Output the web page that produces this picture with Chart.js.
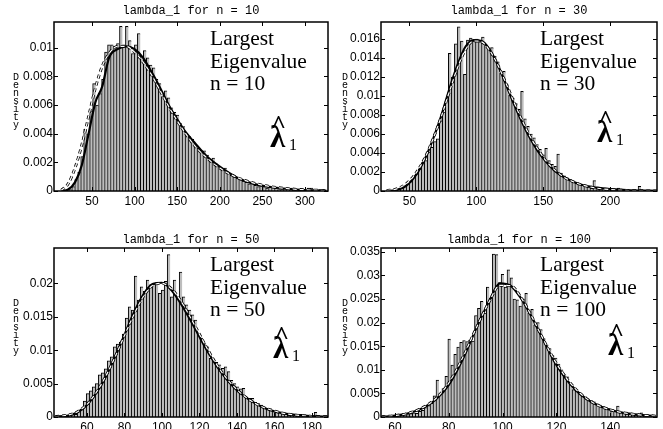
<!DOCTYPE html>
<html>
<head>
<meta charset="utf-8">
<script src="https://cdn.jsdelivr.net/npm/chart.js@4"></script>
<style>
  body { margin: 0; background: #fff; }
  #wrap { position: relative; width: 663px; height: 429px; background: #fff; overflow: hidden; }
  canvas { position: absolute; }
</style>
</head>
<body>
<div id="wrap">
  <canvas id="c10" width="332" height="214" style="left:0;top:0"></canvas>
  <canvas id="c30" width="331" height="214" style="left:332px;top:0"></canvas>
  <canvas id="c50" width="332" height="215" style="left:0;top:214px"></canvas>
  <canvas id="c100" width="331" height="215" style="left:332px;top:214px"></canvas>
</div>
<script>
// titles and labels
const panelTitles = ['lambda_1 for n = 10', 'lambda_1 for n = 30', 'lambda_1 for n = 50', 'lambda_1 for n = 100'];
const nLabels = ['n = 10', 'n = 30', 'n = 50', 'n = 100'];

// histogram heights, density x 1e-3, one bar per bin
const histN10 = [0, 0, 0, 0.1, 0.3, 0.8, 1.3, 2.4, 4.3, 4.0, 5.6, 7.5, 6.0, 6.8, 7.8, 9.7, 10.2, 10.2, 10.1, 10.3,
  11.5, 10.2, 11.5, 10.5, 9.6, 10.2, 11.0, 9.4, 9.8, 9.3, 8.8, 8.6, 7.8, 7.5, 6.6, 7.0, 6.5, 5.8, 5.5, 5.3,
  4.7, 4.5, 4.0, 3.8, 3.6, 3.2, 3.0, 2.8, 2.8, 2.5, 2.2, 2.3, 1.9, 1.7, 1.5, 1.6, 1.3, 1.1, 1.0, 0.9,
  0.8, 0.7, 0.6, 0.5, 0.6, 0.4, 0.3, 0.4, 0.3, 0.2, 0.3, 0.3, 0.2, 0.1, 0.1, 0.2, 0.1, 0.2, 0.1, 0,
  0.1, 0.1, 0, 0.2, 0.2, 0.1, 0, 0.1];
const histN30 = [0, 0, 0.1, 0.2, 0.2, 0.4, 0.5, 0.8, 1.0, 1.6, 1.8, 2.3, 3.0, 3.2, 4.1, 4.6, 5.2, 5.5, 7.4, 8.3,
  9.6, 14.5, 12.0, 15.5, 17.3, 15.8, 12.3, 15.9, 16.1, 15.8, 16.0, 15.7, 16.2, 15.4, 14.9, 15.1, 14.2, 13.6, 12.4, 12.6,
  11.2, 10.1, 9.8, 9.2, 8.6, 10.5, 7.6, 6.8, 6.0, 5.6, 4.9, 4.4, 3.8, 4.5, 3.2, 2.8, 2.6, 3.9, 1.9, 1.6,
  1.4, 1.2, 1.0, 0.8, 0.7, 0.6, 0.5, 0.4, 0.3, 1.1, 0.3, 0.2, 0.3, 0.3, 0.1, 0.1, 0.1, 0.3, 0, 0.1,
  0, 0, 0, 0.1, 0.5];
const histN50 = [0.2, 0.3, 0.2, 0.3, 0.4, 0.4, 0.9, 1.2, 2.4, 3.5, 3.9, 4.5, 5.0, 6.3, 6.6, 7.2, 8.4, 9.0, 10.5, 10.9,
  11.2, 12.4, 14.8, 16.5, 16.0, 21.1, 17.5, 19.5, 18.8, 20.5, 19.8, 19.9, 20.1, 18.5, 19.0, 20.3, 24.3, 18.0, 20.5, 17.8,
  21.7, 18.0, 16.8, 16.0, 15.3, 14.5, 12.5, 11.8, 11.0, 10.5, 8.8, 8.5, 8.2, 7.8, 7.3, 7.5, 6.8, 5.5, 5.0, 4.5,
  4.2, 4.3, 3.0, 2.8, 2.8, 2.2, 2.0, 1.8, 1.4, 1.2, 1.0, 0.9, 0.8, 0.7, 0.6, 0.4, 0.3, 0.3, 0.2, 0.3,
  0.4, 0.2, 0.1, 0, 0, 0.7, 0];
const histN100 = [0, 0, 0.1, 0.3, 0.4, 0.2, 0.4, 0.6, 0.5, 0.7, 0.9, 0.8, 1.2, 1.4, 2.0, 2.4, 2.9, 4.5, 7.8, 5.0,
  6.0, 8.6, 16.5, 11.0, 13.3, 14.8, 15.8, 16.2, 16.0, 16.3, 16.1, 21.5, 23.0, 24.5, 22.0, 27.5, 25.2, 34.5, 34.4, 28.5,
  30.2, 27.5, 31.2, 29.5, 25.0, 24.8, 23.5, 25.0, 26.2, 22.0, 22.8, 19.5, 20.0, 18.5, 16.6, 15.3, 14.5, 13.0, 12.5, 11.2,
  10.0, 9.0, 8.5, 7.0, 5.8, 5.5, 5.2, 4.5, 4.2, 3.8, 3.5, 3.2, 2.8, 2.5, 2.2, 2.0, 1.8, 1.5, 1.2, 2.3,
  1.0, 0.9, 0.7, 0.6, 0.6, 0.4, 0.5, 0.9, 0.3, 0];

// first bin centre and bin width per panel
const binStart = [14, 33, 46, 56];
const binWidth = [3.5, 2.25, 1.6, 1.1];

// density curves (x, and density x 1e-3): smooth estimate and fitted curve
const curveXN10 = [14, 22, 30, 38, 46, 54, 62, 70, 80, 90, 100, 110, 120, 130, 140, 150, 160, 170, 185, 200, 220, 240, 260, 290, 325];
const kernelN10 = [0, 0.1, 0.6, 1.8, 4.0, 6.2, 7.3, 9.3, 9.9, 10.1, 9.9, 9.3, 8.3, 7.2, 6.0, 5.0, 4.1, 3.4, 2.4, 1.7, 0.95, 0.5, 0.28, 0.1, 0.02];
const fitN10 = [0.05, 0.5, 1.6, 3.2, 5.2, 7.2, 8.7, 9.6, 10.1, 10.1, 9.7, 9.0, 8.1, 7.0, 5.9, 4.9, 4.0, 3.2, 2.3, 1.6, 0.95, 0.55, 0.3, 0.12, 0.03];

const curveXN30 = [33, 40, 48, 55, 62, 68, 74, 80, 86, 92, 98, 104, 110, 116, 122, 128, 134, 140, 146, 152, 158, 165, 172, 180, 190, 200, 215, 235];
const kernelN30 = [0, 0.1, 0.6, 1.7, 3.5, 5.6, 8.0, 10.8, 13.3, 15.2, 15.9, 15.8, 14.9, 13.3, 11.3, 9.2, 7.3, 5.6, 4.2, 3.1, 2.2, 1.5, 1.0, 0.6, 0.35, 0.2, 0.08, 0.02];
const fitN30 = [0.05, 0.2, 0.8, 1.9, 3.6, 5.6, 7.9, 10.5, 13.0, 14.9, 15.8, 15.7, 14.8, 13.3, 11.4, 9.4, 7.5, 5.8, 4.4, 3.2, 2.3, 1.5, 1.0, 0.6, 0.3, 0.15, 0.05, 0.01];

const curveXN50 = [43, 50, 55, 60, 65, 70, 75, 80, 85, 90, 95, 100, 105, 110, 115, 120, 125, 130, 135, 140, 145, 150, 155, 160, 165, 170, 180, 189];
const kernelN50 = [0, 0.2, 0.7, 1.8, 3.6, 6.0, 9.0, 12.3, 15.6, 18.3, 19.9, 20.1, 19.0, 17.0, 14.6, 12.0, 9.5, 7.3, 5.5, 4.0, 2.9, 2.0, 1.3, 0.85, 0.55, 0.35, 0.12, 0.05];
const fitN50 = [0.05, 0.3, 0.8, 1.9, 3.7, 6.1, 9.0, 12.2, 15.3, 18.0, 19.7, 20.0, 19.2, 17.4, 15.0, 12.4, 9.8, 7.5, 5.6, 4.1, 2.9, 2.0, 1.35, 0.9, 0.55, 0.33, 0.1, 0.03];

const curveXN100 = [55, 60, 65, 70, 75, 80, 85, 90, 95, 99, 103, 107, 111, 115, 119, 123, 127, 131, 135, 139, 143, 147, 152, 157];
const kernelN100 = [0, 0.3, 0.8, 1.8, 3.6, 6.8, 12.0, 18.5, 24.5, 28.3, 27.8, 25.0, 21.0, 16.5, 12.0, 8.5, 5.8, 3.9, 2.6, 1.7, 1.1, 0.7, 0.4, 0.2];
const fitN100 = [0.05, 0.3, 0.8, 1.9, 3.8, 7.2, 12.4, 18.6, 24.4, 27.9, 27.8, 25.2, 21.1, 16.6, 12.3, 8.8, 6.0, 4.0, 2.6, 1.7, 1.1, 0.7, 0.4, 0.2];

// axis ticks
const xTicksN10 = [50, 100, 150, 200, 250, 300];
const xTicksN30 = [50, 100, 150, 200];
const xTicksN50 = [60, 80, 100, 120, 140, 160, 180];
const xTicksN100 = [60, 80, 100, 120, 140];
const yTicksN10 = [0, 0.002, 0.004, 0.006, 0.008, 0.01];
const yTicksN30 = [0, 0.002, 0.004, 0.006, 0.008, 0.01, 0.012, 0.014, 0.016];
const yTicksN50 = [0, 0.005, 0.01, 0.015, 0.02];
const yTicksN100 = [0, 0.005, 0.01, 0.015, 0.02, 0.025, 0.03, 0.035];

Chart.defaults.font.family = '"Liberation Sans", Arial, sans-serif';
Chart.defaults.color = '#000';

const frame = {
  id: 'frame',
  afterDraw(chart, args, o) {
    const { ctx, chartArea: a, scales: { x, y } } = chart;
    ctx.save();
    ctx.strokeStyle = '#000';
    ctx.lineWidth = 1.5;
    ctx.strokeRect(a.left, a.top, a.right - a.left, a.bottom - a.top);
    ctx.lineWidth = 1;
    ctx.beginPath();
    x.ticks.forEach(t => {
      const px = Math.round(x.getPixelForValue(t.value)) + 0.5;
      ctx.moveTo(px, a.bottom); ctx.lineTo(px, a.bottom - 4);
      ctx.moveTo(px, a.top); ctx.lineTo(px, a.top + 4);
    });
    y.ticks.forEach(t => {
      const py = Math.round(y.getPixelForValue(t.value)) + 0.5;
      ctx.moveTo(a.left, py); ctx.lineTo(a.left + 4, py);
      ctx.moveTo(a.right, py); ctx.lineTo(a.right - 4, py);
    });
    ctx.stroke();

    ctx.fillStyle = '#000';
    ctx.textAlign = 'center';
    ctx.textBaseline = 'alphabetic';
    ctx.font = '12px "Liberation Mono", monospace';
    ctx.fillText(o.title, (a.left + a.right) / 2, a.top - o.titleGap);

    ctx.font = '10px "Liberation Mono", monospace';
    [...'Density'].forEach((ch, i) => ctx.fillText(ch, a.left - o.labelDx, a.top + 58 + i * 8));

    ctx.textAlign = 'left';
    ctx.font = '21.5px "Liberation Serif", serif';
    const tx = a.right - o.textRight;
    ctx.fillText('Largest', tx, a.top + 23);
    ctx.fillText('Eigenvalue', tx, a.top + 46);
    ctx.fillText(o.nLabel, tx, a.top + 68);

    const lx = a.right - o.lam[0], ly = a.top + o.lam[1];
    ctx.font = 'bold 31px "Liberation Serif", serif';
    ctx.fillText('λ', lx, ly);
    ctx.font = 'bold 26px "Liberation Serif", serif';
    ctx.fillText('^', lx + 1, ly - 14);
    ctx.font = '16px "Liberation Serif", serif';
    ctx.fillText('1', lx + 19, ly + 3);
    ctx.restore();
  }
};

const panels = [
  { id: 'c10', k: 0, hist: histN10, cx: curveXN10, kern: kernelN10, fit: fitN10, xTicks: xTicksN10, yTicks: yTicksN10,
    xMin: 5.4, xMax: 327, yMax: 0.0118, yw: 54, right: 4, top: 22, xh: 23, labelDx: 38, titleGap: 8, textRight: 118, lam: [58, 125] },
  { id: 'c30', k: 1, hist: histN30, cx: curveXN30, kern: kernelN30, fit: fitN30, xTicks: xTicksN30, yTicks: yTicksN30,
    xMin: 28.8, xMax: 235, yMax: 0.0178, yw: 49, right: 6, top: 22, xh: 23, labelDx: 36, titleGap: 8, textRight: 117, lam: [60, 120] },
  { id: 'c50', k: 2, hist: histN50, cx: curveXN50, kern: kernelN50, fit: fitN50, xTicks: xTicksN50, yTicks: yTicksN50,
    xMin: 42.4, xMax: 188.6, yMax: 0.0253, yw: 54, right: 4, top: 34, xh: 12, labelDx: 38, titleGap: 5, textRight: 118, lam: [55, 110] },
  { id: 'c100', k: 3, hist: histN100, cx: curveXN100, kern: kernelN100, fit: fitN100, xTicks: xTicksN100, yTicks: yTicksN100,
    xMin: 54.8, xMax: 157.4, yMax: 0.0358, yw: 49, right: 6, top: 34, xh: 12, labelDx: 36, titleGap: 5, textRight: 117, lam: [49, 107] }
];

panels.forEach(p => {
  const bars = p.hist.map((h, i) => ({ x: binStart[p.k] + i * binWidth[p.k], y: h / 1000 }));
  const kern = p.cx.map((x, i) => ({ x: x, y: p.kern[i] / 1000 }));
  const fit = p.cx.map((x, i) => ({ x: x, y: p.fit[i] / 1000 }));
  const line = { type: 'line', pointRadius: 0, cubicInterpolationMode: 'monotone', fill: false };

  new Chart(document.getElementById(p.id), {
    type: 'bar',
    data: {
      datasets: [
        Object.assign({}, line, { data: fit, borderColor: '#fff', borderWidth: 1.2, borderDash: [4, 3], order: 0 }),
        Object.assign({}, line, { data: fit, borderColor: '#000', borderWidth: 2.8, borderDash: [4, 3], order: 1 }),
        Object.assign({}, line, { data: kern, borderColor: '#000', borderWidth: 2.2, order: 2 }),
        {
          data: bars,
          backgroundColor: '#bdbdbd',
          borderColor: '#000',
          borderWidth: { top: 1, left: 1, right: 0, bottom: 0 },
          barPercentage: 1,
          categoryPercentage: 1,
          order: 3
        }
      ]
    },
    options: {
      responsive: false,
      animation: false,
      devicePixelRatio: 1,
      layout: { padding: { left: 0, top: p.top, right: p.right, bottom: 0 } },
      plugins: {
        legend: { display: false },
        tooltip: { enabled: false },
        frame: { title: panelTitles[p.k], nLabel: nLabels[p.k], labelDx: p.labelDx, titleGap: p.titleGap, textRight: p.textRight, lam: p.lam }
      },
      scales: {
        x: {
          type: 'linear',
          min: p.xMin,
          max: p.xMax,
          offset: false,
          afterBuildTicks: s => { s.ticks = p.xTicks.map(v => ({ value: v })); },
          afterFit: s => { s.height = p.xh; },
          grid: { display: false, drawTicks: false },
          border: { display: false },
          ticks: { font: { size: 12 }, padding: 3, maxRotation: 0, autoSkip: false, callback: v => String(v) }
        },
        y: {
          min: 0,
          max: p.yMax,
          afterBuildTicks: s => { s.ticks = p.yTicks.map(v => ({ value: v })); },
          afterFit: s => { s.width = p.yw; },
          grid: { display: false, drawTicks: false },
          border: { display: false },
          ticks: { font: { size: 12 }, padding: 1, callback: v => String(v) }
        }
      }
    },
    plugins: [frame]
  });
});
</script>
</body>
</html>
